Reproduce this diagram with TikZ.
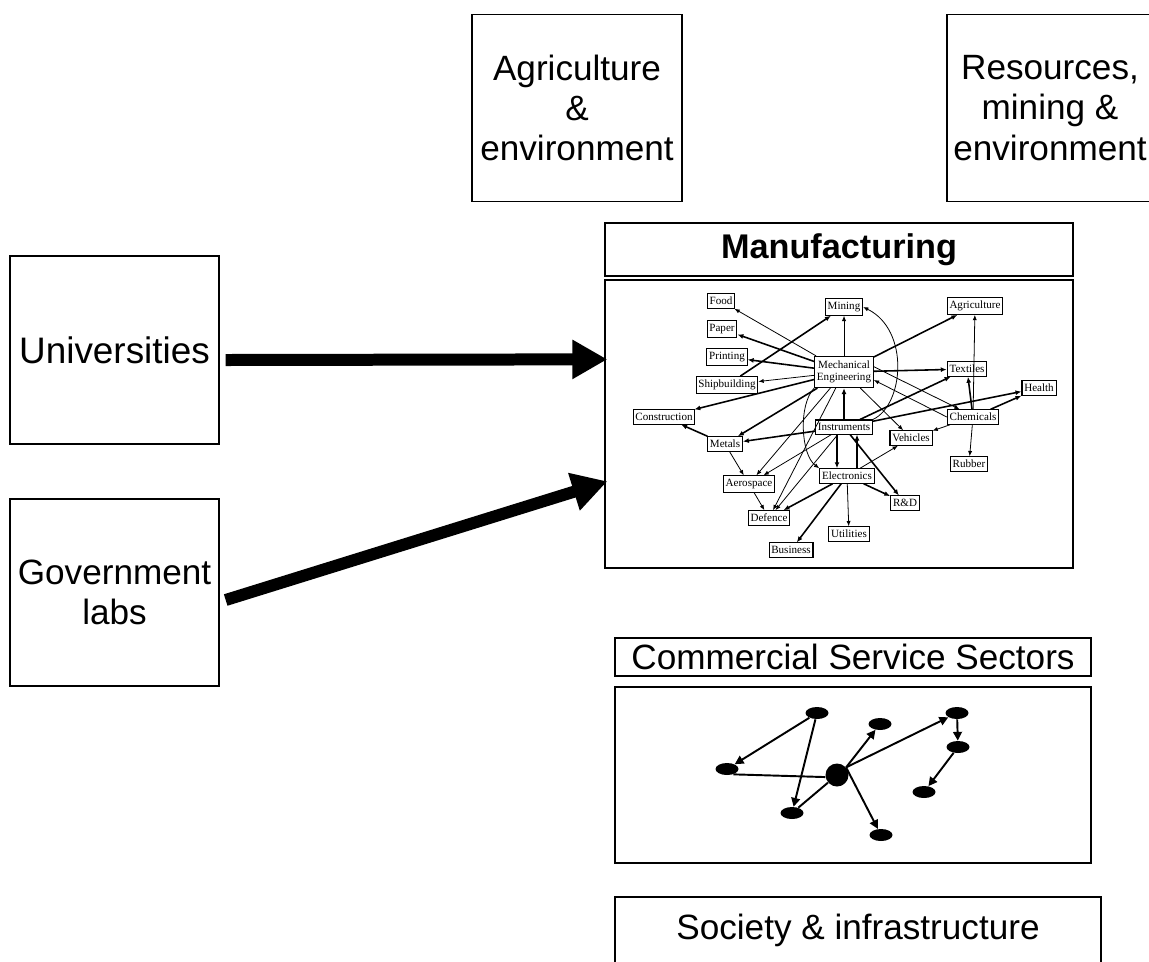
\documentclass[tikz,border=0pt]{standalone}
\usepackage{fontspec}
\setmainfont{Liberation Sans}
\newfontfamily\bookfont{Liberation Serif}
\usepackage{tikz}
\usetikzlibrary{arrows.meta,shapes.geometric}

\tikzset{
  bigbox/.style={draw,line width=0.8pt,align=center,inner sep=0pt,font=\fontsize{20}{23}\selectfont},
  smallbox/.style={draw,line width=0.6pt,inner xsep=1.3pt,inner ysep=1.9pt,align=center,font=\bookfont\fontsize{6.3}{6.8}\selectfont},
  thin link/.style={line width=0.45pt,-{Latex[length=3pt,width=2.4pt]}},
  thick link/.style={line width=0.9pt,-{Latex[length=3.4pt,width=2.8pt]}},
  sect/.style={ellipse,fill=black,inner sep=0pt,minimum width=0.46cm,minimum height=0.24cm},
  sect link/.style={line width=1.1pt,-{Triangle[length=5pt,width=5pt]}},
  heavy arrow/.style={line width=0.24cm,-{Triangle[length=0.7cm,width=0.74cm]}}
}

\begin{document}
\begin{tikzpicture}[x=0.02cm,y=-0.02cm]
\useasboundingbox (0,0) rectangle (1149,961);

% Boxes at the top and on the left
\node[bigbox,minimum width=4.2cm,minimum height=3.74cm] (agbox) at (577,108) {Agriculture\\\&\\environment};
\node[bigbox,minimum width=4.12cm,minimum height=3.74cm] (resbox) at (1050,108) {Resources,\\mining \&\\environment};
\node[bigbox,minimum width=4.18cm,minimum height=3.76cm,font=\fontsize{21}{23}\selectfont] (uni) at (114.5,350) {Universities};
\node[bigbox,minimum width=4.18cm,minimum height=3.74cm] (gov) at (114.5,592.5) {Government\\labs};

% Manufacturing
\node[bigbox,minimum width=9.36cm,minimum height=1.06cm,font=\bfseries\fontsize{19.5}{21}\selectfont] (mfgtitle) at (839,249.5) {Manufacturing};
\node[bigbox,minimum width=9.36cm,minimum height=5.76cm] (mfgpic) at (839,424) {};

% Service sectors and society
\node[bigbox,minimum width=9.52cm,minimum height=0.76cm] (csstitle) at (853,657) {Commercial Service Sectors};
\node[bigbox,minimum width=9.52cm,minimum height=3.52cm] (csspic) at (853,775) {};
\node[bigbox,minimum width=9.72cm,minimum height=1.32cm] (society) at (858,930) {Society \& infrastructure};

% Heavy arrows into manufacturing
\draw[heavy arrow] ([shift={(6,10)}]uni.east) -- ([shift={(3,80)}]mfgpic.north west);
\draw[heavy arrow] ([shift={(6,7.5)}]gov.east) -- ([shift={(3,202)}]mfgpic.north west);

% Manufacturing network
\node[smallbox] (food) at (721,301) {Food};
\node[smallbox] (paper) at (722,329) {Paper};
\node[smallbox] (printing) at (727,357) {Printing};
\node[smallbox] (ship) at (727,385) {Shipbuilding};
\node[smallbox] (constr) at (664,417) {Construction};
\node[smallbox] (metals) at (725,444) {Metals};
\node[smallbox] (aero) at (749,484) {Aerospace};
\node[smallbox] (defence) at (769,518) {Defence};
\node[smallbox] (business) at (791,550) {Business};
\node[smallbox] (mining) at (844,307) {Mining};
\node[smallbox,inner ysep=2.6pt] (mecheng) at (844,372) {Mechanical\\Engineering};
\node[smallbox] (instr) at (844,427) {Instruments};
\node[smallbox] (electr) at (847,476) {Electronics};
\node[smallbox] (util) at (849,534) {Utilities};
\node[smallbox] (rnd) at (905,503) {R\&D};
\node[smallbox] (vehicles) at (911,438) {Vehicles};
\node[smallbox] (agri) at (975,306) {Agriculture};
\node[smallbox] (textiles) at (967,369) {Textiles};
\node[smallbox] (health) at (1039,388) {Health};
\node[smallbox] (chem) at (973,417) {Chemicals};
\node[smallbox] (rubber) at (969,464) {Rubber};

\foreach \a/\b in {mecheng/food, mecheng/ship, mecheng/mining, mecheng/vehicles, mecheng/aero,
    mecheng/defence, instr/aero, instr/defence, electr/util, electr/vehicles, chem/vehicles,
    chem/agri, chem/rubber, metals/aero, aero/defence}
  \draw[thin link] (\a) -- (\b);
\foreach \a/\b in {mecheng/paper, mecheng/printing, ship/mining, mecheng/constr, mecheng/agri,
    mecheng/textiles, mecheng/metals, instr/mecheng, instr/metals, instr/textiles, instr/health,
    instr/rnd, electr/defence, electr/business, electr/rnd, chem/textiles, chem/health, metals/constr}
  \draw[thick link] (\a) -- (\b);
\draw[thin link] (mecheng.10) -- (chem.150);
\draw[thin link] (chem.west) -- (mecheng.-15);
\draw[thick link] ([xshift=-0.14cm]instr.south) -- ([xshift=-0.2cm]electr.north);
\draw[thick link] ([xshift=0.2cm]electr.north) -- ([xshift=0.26cm]instr.south);
\draw[thin link] (mecheng.south west) .. controls (798,405) and (801,455) .. (electr.north west);
\draw[thin link] (instr.north east) .. controls (904,405) and (910,330) .. (mining.east);

% Service sector network
\node[sect] (sa) at (817,713) {};
\node[sect] (sb) at (880,724) {};
\node[sect] (sc) at (957,713) {};
\node[sect] (sd) at (958,747) {};
\node[sect] (se) at (727,769) {};
\node[circle,fill=black,inner sep=0pt,minimum size=0.46cm] (hub) at (837,775) {};
\node[sect] (sg) at (792,813) {};
\node[sect] (sh) at (924,792) {};
\node[sect] (si) at (881,835) {};

\draw[sect link] (sa) -- (se);
\draw[sect link] (sa) -- (sg);
\draw[line width=1.1pt] (se.-40) -- (hub.190);
\draw[line width=1.1pt] (sg) -- (hub);
\foreach \t in {sb,sc,si}
  \draw[sect link] (hub.40) -- (\t);
\draw[sect link] (sc) -- (sd);
\draw[sect link] (sd) -- (sh);
\end{tikzpicture}
\end{document}
